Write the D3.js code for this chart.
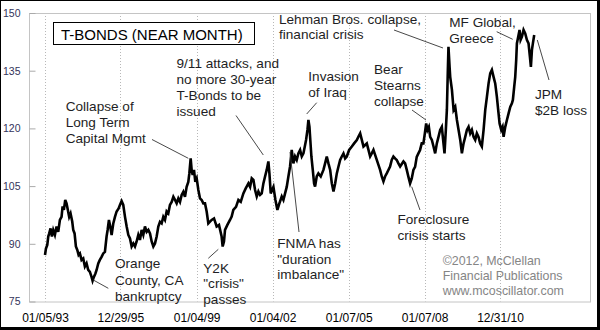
<!DOCTYPE html>
<html><head><meta charset="utf-8">
<script src="https://cdn.jsdelivr.net/npm/d3@7/dist/d3.min.js"></script>
<style>body{margin:0;background:#fff}svg{display:block;font-family:Arial,"Liberation Sans",sans-serif}</style>
</head><body><svg id="c" width="600" height="330"></svg>
<script>
// ---- data ----
const dates = [
"1993-01-05","1993-01-19","1993-02-07","1993-02-21","1993-03-07","1993-03-26","1993-04-15","1993-05-04","1993-05-28","1993-06-21",
"1993-07-15","1993-08-08","1993-09-01","1993-09-16","1993-10-05","1993-10-24","1993-11-12","1993-12-01","1993-12-20",
"1994-01-09","1994-02-02","1994-02-17","1994-03-08","1994-03-27","1994-04-16","1994-05-05","1994-05-24","1994-06-17","1994-07-11",
"1994-08-04","1994-08-28","1994-09-21","1994-10-15","1994-11-08","1994-11-23","1994-12-12",
"1995-01-03","1995-01-20","1995-02-13","1995-03-08","1995-04-02","1995-04-26","1995-05-20","1995-06-13","1995-06-28","1995-07-17",
"1995-08-05","1995-08-25","1995-09-18","1995-10-12","1995-11-05","1995-12-04","1995-12-23",
"1996-01-16","1996-02-09","1996-03-05","1996-03-29","1996-04-22","1996-05-16","1996-06-09","1996-07-03","1996-07-27","1996-08-20",
"1996-09-13","1996-10-07","1996-10-31","1996-11-24","1996-12-18",
"1997-01-12","1997-02-05","1997-03-01","1997-03-25","1997-04-18","1997-05-12","1997-06-05","1997-06-29","1997-07-23","1997-08-16",
"1997-09-09","1997-10-03","1997-10-27","1997-11-20","1997-12-14",
"1998-01-08","1998-02-01","1998-02-25","1998-03-21","1998-04-14","1998-05-08","1998-06-01","1998-06-25","1998-07-19","1998-08-12",
"1998-09-05","1998-09-20","1998-10-09","1998-10-23","1998-11-07","1998-11-26","1998-12-15",
"1999-01-04","1999-01-28","1999-02-21","1999-03-17","1999-04-10","1999-05-04","1999-05-28","1999-06-21","1999-08-08","1999-09-11",
"1999-10-19","1999-11-22","1999-12-30",
"2000-01-14","2000-02-02","2000-02-17","2000-03-22","2000-04-29","2000-05-23","2000-06-16","2000-07-25","2000-08-28","2000-10-01",
"2000-11-08","2000-12-12",
"2001-01-20","2001-02-13","2001-03-09","2001-04-02","2001-04-26","2001-05-20","2001-06-13","2001-07-07","2001-07-31","2001-08-24",
"2001-09-17","2001-10-11","2001-11-04","2001-11-19","2001-12-08","2001-12-28",
"2002-01-16","2002-02-14","2002-03-14","2002-04-12","2002-05-16","2002-06-09","2002-07-03","2002-07-27","2002-08-20","2002-09-13",
"2002-10-07","2002-10-31","2002-11-24","2002-12-18",
"2003-01-11","2003-02-05","2003-03-01","2003-03-25","2003-04-18","2003-05-02","2003-05-22","2003-06-05","2003-06-20","2003-06-29",
"2003-07-18","2003-08-07","2003-08-26","2003-09-09","2003-10-03","2003-10-27","2003-11-30",
"2004-01-08","2004-02-01","2004-02-25","2004-03-20","2004-04-14","2004-05-08","2004-06-01","2004-06-25","2004-07-19","2004-08-12",
"2004-09-05","2004-09-29","2004-10-23","2004-11-16","2004-12-10",
"2005-01-13","2005-02-21","2005-03-26","2005-05-04","2005-05-28","2005-06-21","2005-07-15","2005-08-08","2005-09-01","2005-09-25",
"2005-10-19","2005-11-12","2005-12-06","2005-12-30",
"2006-01-23","2006-02-16","2006-03-12","2006-04-05","2006-04-29","2006-05-23","2006-06-16","2006-07-10","2006-08-03","2006-08-27",
"2006-09-20","2006-10-14","2006-11-07","2006-12-01","2006-12-25",
"2007-01-19","2007-03-08","2007-04-01","2007-04-25","2007-05-19","2007-06-12","2007-07-06","2007-07-30","2007-08-23","2007-09-16",
"2007-10-10","2007-11-03","2007-11-27","2007-12-21",
"2008-01-11","2008-01-30","2008-02-18","2008-03-09","2008-03-28","2008-04-21","2008-05-15","2008-06-08","2008-07-02","2008-07-26",
"2008-08-19","2008-09-12","2008-10-06","2008-10-21","2008-11-09","2008-11-24","2008-12-08","2008-12-17",
"2009-01-02","2009-01-11","2009-02-05","2009-03-01","2009-03-25","2009-04-18","2009-05-12","2009-06-05","2009-06-29","2009-07-23",
"2009-08-16","2009-09-09","2009-10-03","2009-10-27","2009-11-20","2009-12-14",
"2010-01-07","2010-01-31","2010-02-24","2010-03-20","2010-04-13","2010-05-08","2010-06-01","2010-06-25","2010-07-19","2010-08-12",
"2010-09-05","2010-09-29","2010-10-23","2010-11-16","2010-12-10","2010-12-25",
"2011-01-18","2011-02-06","2011-02-21","2011-03-17","2011-04-10","2011-05-04","2011-05-28","2011-06-21","2011-07-05","2011-07-24",
"2011-08-08","2011-08-22","2011-09-01","2011-09-20","2011-10-09","2011-10-24","2011-11-12","2011-12-06","2011-12-30",
"2012-01-23","2012-02-16","2012-03-07","2012-03-21","2012-04-05","2012-04-19","2012-05-08"
];
const values = [
87.1,88.8,89.7,91.9,92.7,94.0,91.9,93.6,92.3,94.5,
93.1,96.2,97.0,99.7,98.8,101.4,100.5,98.8,97.0,
97.9,95.8,93.6,92.7,89.3,88.4,87.1,87.5,85.8,86.2,
84.1,84.9,83.2,82.7,81.4,80.4,81.4,
82.3,83.2,84.9,85.8,86.6,87.5,87.9,91.9,93.6,96.2,
94.5,92.3,95.3,97.0,98.4,99.2,100.1,
101.1,100.1,97.0,94.5,92.3,91.4,89.3,90.1,89.3,90.6,
92.3,91.0,93.6,92.3,94.5,
93.1,93.6,92.7,90.6,89.3,90.1,91.9,94.5,95.7,95.3,
97.0,96.2,98.4,97.9,100.1,
100.9,102.2,101.4,100.5,101.8,100.9,102.7,103.5,102.2,104.8,
106.1,108.3,112.2,109.2,107.9,109.2,106.1,
107.0,104.0,101.8,101.4,100.5,100.5,98.4,95.3,96.2,96.6,
94.5,94.9,91.9,
89.3,90.6,93.6,94.9,96.2,97.1,98.8,99.6,101.4,100.9,
103.1,104.4,
105.7,104.8,107.0,106.6,104.0,102.3,103.6,102.7,103.1,105.7,
107.5,109.2,111.4,108.3,103.1,104.0,
104.8,101.4,98.8,100.5,102.3,101.4,103.1,104.8,107.5,110.1,
114.4,110.9,112.7,111.8,
113.5,114.4,112.7,113.5,115.7,117.0,119.6,122.2,120.4,117.9,
112.7,109.2,105.7,104.9,107.5,108.3,107.5,
109.2,110.9,112.7,110.9,109.2,105.7,103.6,105.7,108.3,110.1,
111.8,112.7,113.5,112.2,112.7,
114.4,115.3,116.1,117.0,117.9,118.7,117.0,115.3,115.7,116.1,
114.4,112.7,113.5,114.4,
113.1,111.8,110.5,109.2,107.5,106.2,107.5,108.3,109.2,110.1,
111.8,112.7,112.2,111.8,110.9,
110.1,111.4,110.9,109.2,107.4,105.7,107.0,109.2,110.0,112.6,
113.5,114.4,116.1,116.1,
118.7,121.3,119.6,120.4,117.8,117.0,115.3,113.5,116.1,117.8,
119.6,120.4,116.1,113.5,119.6,124.8,135.2,141.2,
136.0,133.4,130.0,124.8,125.6,122.2,119.6,117.0,113.5,116.1,
117.8,119.6,120.4,118.7,119.6,117.8,
117.0,118.7,117.8,116.1,115.3,119.6,124.8,128.2,131.7,134.3,
135.2,133.4,131.7,128.2,123.9,121.3,
119.6,120.4,117.8,120.4,122.2,123.9,125.6,126.5,127.4,130.8,
133.4,137.8,142.1,143.8,145.6,143.0,143.8,145.6,144.7,
143.0,142.1,138.6,136.0,140.4,142.1,144.3
];
const yTicks = [75, 90, 105, 120, 135, 150];
const xTickDates = ["1993-01-05","1995-12-29","1999-01-04","2002-01-04","2005-01-07","2008-01-07","2010-12-31"];
const xTickLabels = ["01/05/93","12/29/95","01/04/99","01/04/02","01/07/05","01/07/08","12/31/10"];
const chartTitle = "T-BONDS (NEAR MONTH)";
const credit = ["\u00A92012, McClellan","Financial Publications","www.mcoscillator.com"];

// ---- annotations (layout) ----
const notes = [
 {lines:["Collapse of","Long Term","Capital Mgmt"], x:65.7, y:110.7, dy:16, p:[152,139.5,188.3,158.3]},
 {lines:["9/11 attacks, and","no more 30-year","T-Bonds to be","issued"], x:176.5, y:68.3, dy:16, p:[236,115.5,263.3,155]},
 {lines:["Invasion","of Iraq"], x:308.3, y:81, dy:16, p:[316.7,102.7,306.7,114]},
 {lines:["Lehman Bros. collapse,","financial crisis"], x:279, y:23.5, dy:15.5, p:[394,30,443,48]},
 {lines:["Bear","Stearns","collapse"], x:374, y:73.5, dy:16, p:[412,110,426,120]},
 {lines:["MF Global,","Greece"], x:449.3, y:27, dy:15.5, p:[496.7,31.7,512.7,39.3]},
 {lines:["JPM","$2B loss"], x:535, y:98.5, dy:16, p:[537.3,40,549,80]},
 {lines:["Foreclosure","crisis starts"], x:397.5, y:223.5, dy:16, p:[420,210,411.7,186.7]},
 {lines:["FNMA has","\"duration","imbalance\""], x:277.3, y:248.3, dy:15.5, p:[299,232,290,152]},
 {lines:["Y2K","\"crisis\"","passes"], x:203.3, y:273, dy:15.3, p:[208.3,258.3,218.3,249.3]},
 {lines:["Orange","County, CA","bankruptcy"], x:115, y:268.3, dy:16.2, p:[108.3,288.3,93.3,280]}
];

const W = 600, H = 330;
const plot = {l:29, r:590, t:13, b:301.5};
const parse = d3.timeParse("%Y-%m-%d");
const data = dates.map((d,i)=>({date:parse(d), v:values[i]}));
const tickD = xTickDates.map(parse);

const x = d3.scaleTime().domain([tickD[0], tickD[tickD.length-1]]).range([45, 500]);
const y = d3.scaleLinear().domain([75,150]).range([plot.b, plot.t]);

const svg = d3.select("#c");
svg.append("rect").attr("width",W).attr("height",H).attr("fill","#fff");

// vertical dotted grid
svg.append("g").selectAll("line").data(tickD).join("line")
  .attr("x1",d=>Math.round(x(d))+0.5).attr("x2",d=>Math.round(x(d))+0.5)
  .attr("y1",plot.t).attr("y2",plot.b)
  .attr("stroke","#b8b8b8").attr("stroke-width",1).attr("stroke-dasharray","1,2");

// plot frame
svg.append("rect").attr("x",plot.l+0.5).attr("y",plot.t+0.5)
  .attr("width",plot.r-plot.l).attr("height",plot.b-plot.t)
  .attr("fill","none").attr("stroke","#c4c4c4");

// y axis
const ya = svg.append("g").attr("transform",`translate(${plot.l+0.5},0)`)
  .call(d3.axisLeft(y).tickValues(yTicks).tickSize(-6).tickPadding(9).tickFormat(d3.format("d")));
ya.select(".domain").remove();
ya.selectAll(".tick line").attr("stroke","#aaa");
ya.selectAll(".tick text").attr("fill","#33335a").attr("font-size","10.5px").attr("font-family","Arial,'Liberation Sans',sans-serif");

// x axis
const xa = svg.append("g").attr("transform",`translate(0,${plot.b})`)
  .call(d3.axisBottom(x).tickValues(tickD).tickSize(0).tickPadding(12).tickFormat((d,i)=>xTickLabels[i]));
xa.select(".domain").remove();
xa.selectAll(".tick text").attr("fill","#000").attr("font-size","12px").attr("font-family","Arial,'Liberation Sans',sans-serif");

// title box
svg.append("rect").attr("x",53.5).attr("y",22.5).attr("width",201).attr("height",22)
  .attr("fill","#fff").attr("stroke","#000").attr("stroke-width",1);
svg.append("text").attr("x",61).attr("y",39.5).attr("font-size","15px").attr("fill","#000").text(chartTitle);

// price line
svg.append("path").datum(data)
  .attr("fill","none").attr("stroke","#000").attr("stroke-width",2.6).attr("stroke-linejoin","miter")
  .attr("d", d3.line().x(d=>x(d.date)).y(d=>y(d.v)));

// annotations
const ng = svg.append("g");
notes.forEach(n=>{
  ng.append("line").attr("x1",n.p[0]).attr("y1",n.p[1]).attr("x2",n.p[2]).attr("y2",n.p[3])
    .attr("stroke","#333").attr("stroke-width",0.9);
  const t = ng.append("text").attr("x",n.x).attr("y",n.y).attr("font-size","13.6px").attr("fill","#1e1e24");
  n.lines.forEach((s,i)=>t.append("tspan").attr("x",n.x).attr("y",n.y+i*n.dy).text(s));
});
const ct = svg.append("text").attr("font-size","12.4px").attr("fill","#858585");
credit.forEach((s,i)=>ct.append("tspan").attr("x",442.7).attr("y",264.7+i*15).text(s));

// outer frame (thicker right/bottom)
svg.append("rect").attr("x",0.5).attr("y",0.5).attr("width",597).attr("height",327)
  .attr("fill","none").attr("stroke","#000");
svg.append("rect").attr("x",597).attr("y",0).attr("width",3).attr("height",H).attr("fill","#000");
svg.append("rect").attr("x",0).attr("y",327).attr("width",W).attr("height",3).attr("fill","#000");
</script></body></html>
